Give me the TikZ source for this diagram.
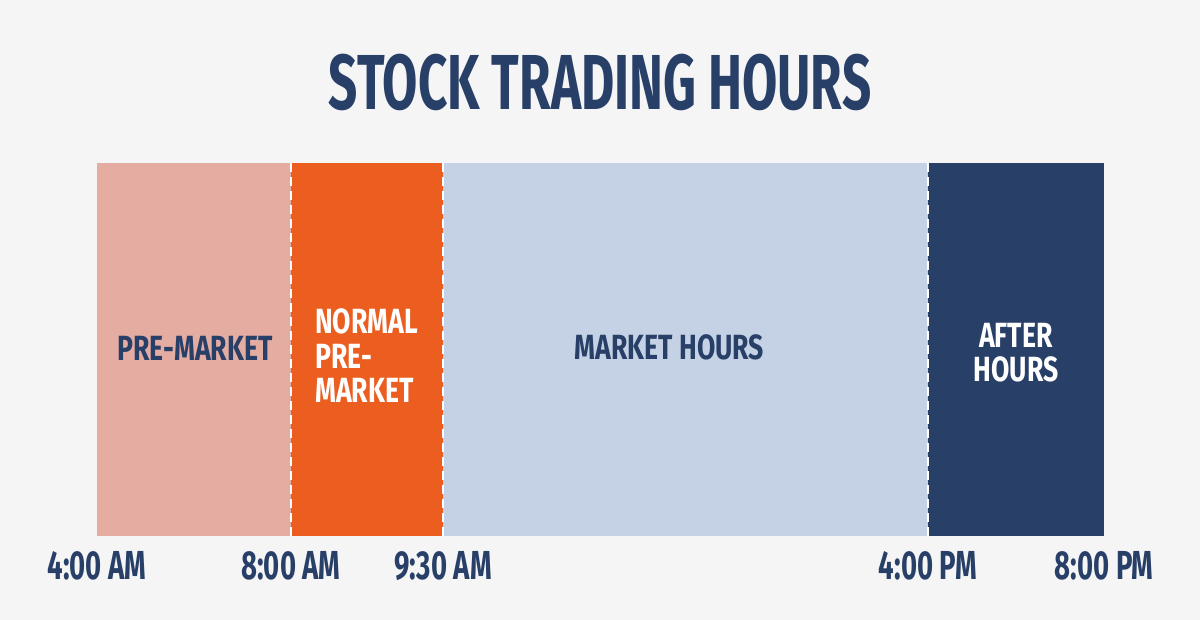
\documentclass[tikz,border=0pt]{standalone}
\usepackage{fontspec}
\newfontfamily\titlefont[FakeStretch=0.655]{Fira Sans}
\newfontfamily\timefont[FakeStretch=0.68]{Fira Sans}
\newfontfamily\labelfont[FakeStretch=0.76]{Fira Sans}
\definecolor{bgc}{HTML}{F5F5F5}
\definecolor{pinkc}{HTML}{E5ADA2}
\definecolor{orangec}{HTML}{EB5E20}
\definecolor{bluec}{HTML}{C5D2E5}
\definecolor{navyc}{HTML}{283F68}
\tikzset{
  seg/.style={draw=none, anchor=north west, minimum height=373pt, inner sep=0pt, outer sep=0pt},
  divider/.style={draw=white, line width=2.2pt, dash pattern=on 9pt off 5pt},
  inlabel/.style={font=\labelfont\bfseries\fontsize{35}{34.5}\selectfont, inner sep=0pt},
  timelabel/.style={font=\timefont\bfseries\fontsize{40.5}{40.5}\selectfont, text=navyc, inner sep=0pt},
}
\begin{document}
\begin{tikzpicture}[x=1pt,y=-1pt]
\fill[bgc] (0,0) rectangle (1200,620);
\useasboundingbox (0,0) rectangle (1200,620);
\node[font=\titlefont\bfseries\fontsize{78}{78}\selectfont, text=navyc, inner sep=0pt] (title) at (600,82.5) {STOCK TRADING HOURS};
\node[seg, fill=pinkc, minimum width=194pt] (pre) at (97,163) {};
\node[seg, fill=orangec, minimum width=152pt] (npre) at (291,163) {};
\node[seg, fill=bluec, minimum width=485pt] (mkt) at (443,163) {};
\node[seg, fill=navyc, minimum width=176pt] (after) at (928,163) {};
\draw[divider] (npre.north west) -- (npre.south west);
\draw[divider] (mkt.north west) -- (mkt.south west);
\draw[divider] (after.north west) -- (after.south west);
\node[inlabel, text=navyc] (tpre) at (195,348) {PRE-MARKET};
\node[inlabel, text=white, align=left, anchor=west] (tnpre) at (315,356) {NORMAL\\PRE-\\MARKET};
\node[inlabel, text=navyc] (tmkt) at (669.5,347) {MARKET HOURS};
\node[inlabel, text=white, align=center] (tafter) at (1016,352.5) {AFTER\\HOURS};
\node[timelabel] (t1) at ([yshift=-30pt]pre.south west) {4:00 AM};
\node[timelabel] (t2) at ([yshift=-30pt]npre.south west) {8:00 AM};
\node[timelabel] (t3) at ([yshift=-30pt]mkt.south west) {9:30 AM};
\node[timelabel] (t4) at ([yshift=-30pt]after.south west) {4:00 PM};
\node[timelabel] (t5) at ([yshift=-30pt]after.south east) {8:00 PM};
\end{tikzpicture}
\end{document}
